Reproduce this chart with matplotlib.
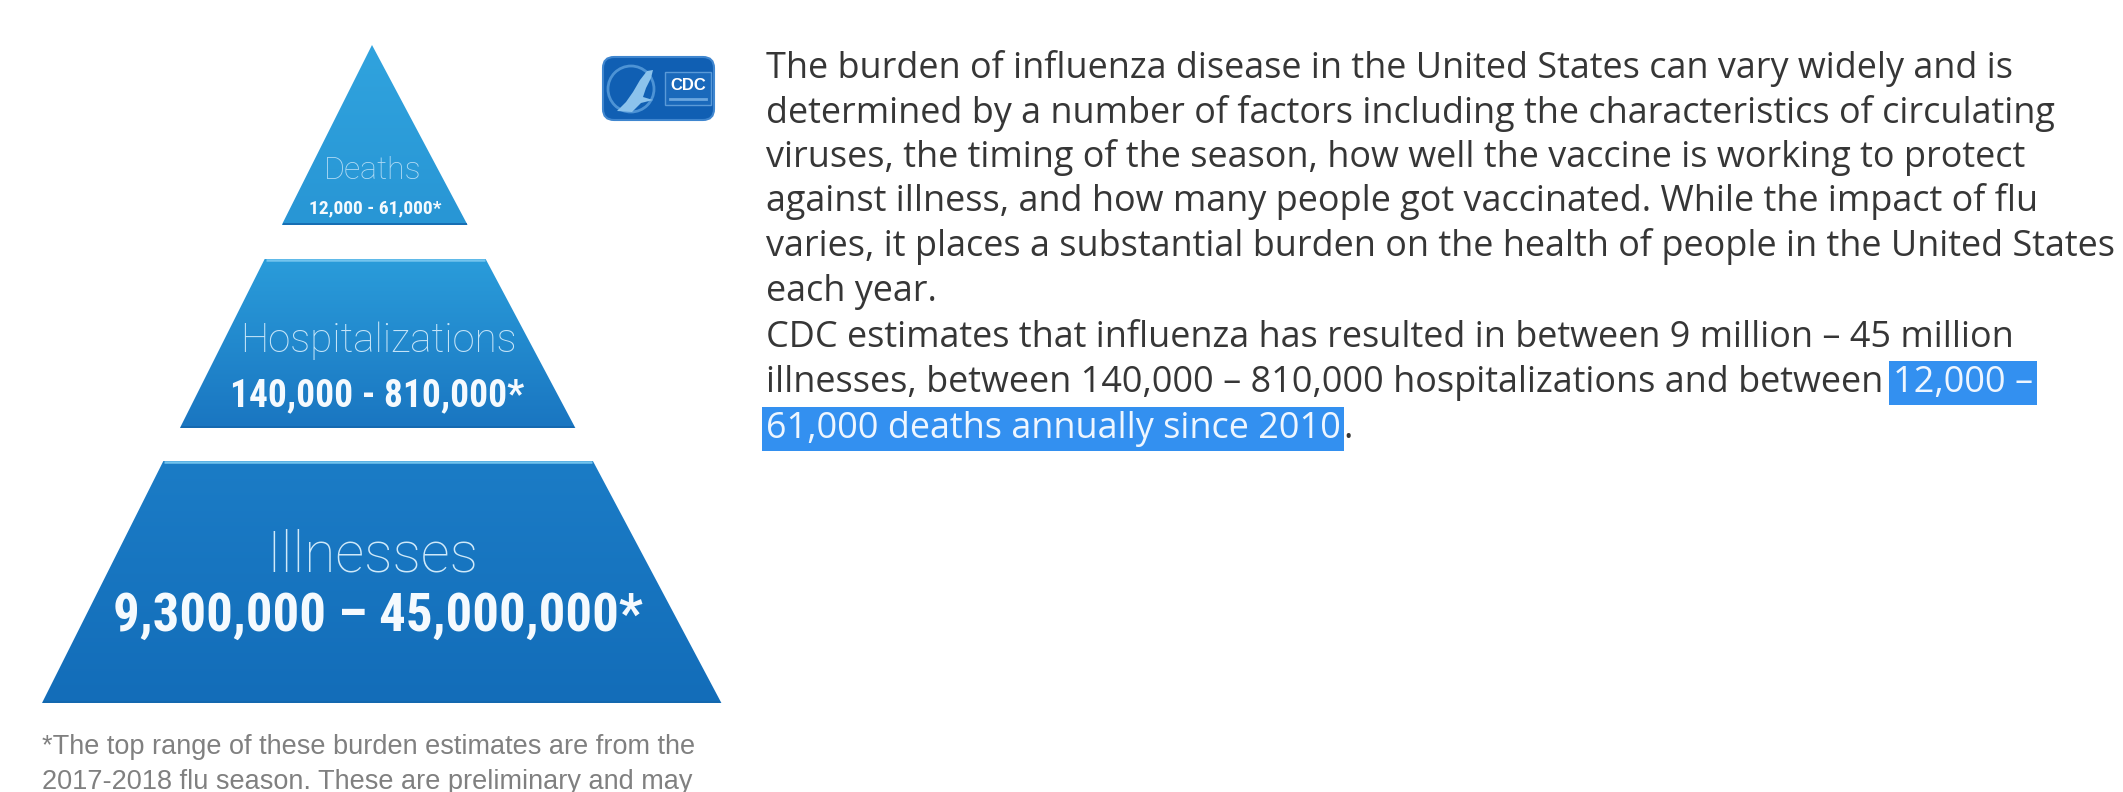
import matplotlib
matplotlib.use("Agg")
import numpy as np
import matplotlib.pyplot as plt
from matplotlib import font_manager
from matplotlib.colors import to_rgb
from matplotlib.patches import Polygon, FancyBboxPatch, Circle, Rectangle

# canvas in pixels
W, H = 2123, 792

# pyramid tiers, top to bottom
tiers = ["Deaths", "Hospitalizations", "Illnesses"]
tier_ranges = ["12,000 - 61,000*", "140,000 - 810,000*", "9,300,000 \u2013 45,000,000*"]

footnote = [
    "*The top range of these burden estimates are from the",
    "2017-2018 flu season. These are preliminary and may",
]

para1 = [
    "The burden of influenza disease in the United States can vary widely and is",
    "determined by a number of factors including the characteristics of circulating",
    "viruses, the timing of the season, how well the vaccine is working to protect",
    "against illness, and how many people got vaccinated. While the impact of flu",
    "varies, it places a substantial burden on the health of people in the United States",
    "each year.",
]
para2_line1 = "CDC estimates that influenza has resulted in between 9 million \u2013 45 million"
para2_line2 = "illnesses, between 140,000 \u2013 810,000 hospitalizations and between"
highlight_a = "12,000 \u2013"
highlight_b = "61,000 deaths annually since 2010"
tail = "."

# fonts
installed = {f.name for f in font_manager.fontManager.ttflist}


def pick(*names):
    for n in names:
        if n in installed:
            return n
    return "DejaVu Sans"


BODY_FONT = pick("Open Sans", "Noto Sans")
THIN_FONT = pick("Roboto", "Liberation Sans")
NUM_FONT = pick("Roboto Condensed", "Liberation Sans Narrow", "Liberation Sans")
num_scale = 1.0 if NUM_FONT != "Liberation Sans" else 0.84
FOOT_FONT = pick("Liberation Sans", "Roboto")

# pyramid layout (pixels); the source image is slightly skewed, so two slopes
apex_x, apex_y = 372, 45
slope_l, slope_r = 0.5015, 0.531
bands = [(45, 225), (259, 428), (461, 703)]
top_colors = ["#30a3de", "#2a9cda", "#1b7cc6"]
bot_colors = ["#2896d5", "#1a76c1", "#136db9"]
label_x = [373, 378, 372]
range_x = [375, 377, 378]
label_y = [179, 352, 571]
label_size = [23, 29, 41]
label_color = ["#b3dcf5", "#c4e4f8", "#cfe9f9"]
range_y = [213, 406, 631]
range_size = [14, 27, 38]

fig = plt.figure(figsize=(W / 100, H / 100), dpi=100)
ax = fig.add_axes([0, 0, 1, 1])
fig.patch.set_facecolor("white")


def edges(y):
    d = y - apex_y
    return apex_x - d * slope_l, apex_x + d * slope_r


for i, (y0, y1) in enumerate(bands):
    l0, r0 = edges(y0)
    l1, r1 = edges(y1)
    if r0 - l0 < 1:
        pts = [(apex_x, y0), (r1, y1), (l1, y1)]
    else:
        pts = [(l0, y0), (r0, y0), (r1, y1), (l1, y1)]
    poly = Polygon(pts, closed=True, facecolor="none", edgecolor="none")
    ax.add_patch(poly)
    c0, c1 = np.array(to_rgb(top_colors[i])), np.array(to_rgb(bot_colors[i]))
    t = np.linspace(0, 1, 64)[:, None, None]
    grad = c0 * (1 - t) + c1 * t
    im = ax.imshow(grad, extent=(l1, r1, y1, y0), origin="upper", aspect="auto",
                   interpolation="bilinear", zorder=1)
    im.set_clip_path(poly)
    if r0 - l0 >= 1:
        ax.plot([l0 + 1, r0 - 1], [y0 + 1, y0 + 1], color="#72c4ee", lw=1.8,
                zorder=2, solid_capstyle="butt")
    ax.plot([l1 + 1, r1 - 1], [y1 - 1, y1 - 1], color="#1467ad", lw=1.2,
            zorder=2, solid_capstyle="butt")

    ax.text(label_x[i], label_y[i], tiers[i], ha="center", va="baseline",
            fontsize=label_size[i], family=THIN_FONT, fontweight="light",
            color=label_color[i], zorder=3)
    ax.text(range_x[i], range_y[i], tier_ranges[i], ha="center", va="baseline",
            fontsize=range_size[i] * num_scale, family=NUM_FONT, fontweight="bold",
            color="#f5fafe", zorder=3)

# footnote
for k, line in enumerate(footnote):
    ax.text(42, 754 + 35 * k, line, ha="left", va="baseline", fontsize=19.5,
            family=FOOT_FONT, color="#808080")

# CDC badge
badge = FancyBboxPatch((603, 57), 111, 63, boxstyle="round,pad=0,rounding_size=11",
                       facecolor="#105fb3", edgecolor="#3f86cf", lw=1.5, zorder=2)
ax.add_patch(badge)
ax.add_patch(Circle((631, 89), 23, facecolor="none", edgecolor="#4d93d5", lw=2, zorder=3))
eagle = [(617, 111), (626, 102), (633, 92), (640, 80), (647, 71), (653, 70),
         (651, 78), (646, 88), (643, 97), (653, 100), (641, 103), (632, 112)]
ax.add_patch(Polygon(eagle, closed=True, facecolor="#8cc3ec", edgecolor="none", zorder=3))
ax.add_patch(Rectangle((665, 72), 46, 33, facecolor="#1a69bb", edgecolor="#5a9ad8",
                       lw=1, zorder=3))
ax.text(688, 86, "CDC", ha="center", va="center", fontsize=12, fontweight="bold",
        family=FOOT_FONT, color="white", zorder=4)
ax.plot([670, 706], [99, 99], color="#6aa6df", lw=2, zorder=4)

# paragraphs
TX = 766
FS = 25.9
BODY = dict(fontsize=FS, family=BODY_FONT, color="#363636", ha="left", va="baseline")
line_y = [78 + 44.5 * k for k in range(len(para1))]
for y, line in zip(line_y, para1):
    ax.text(TX, y, line, **BODY)

y2 = [347, 392, 438]
ax.text(TX, y2[0], para2_line1, **BODY)
t1 = ax.text(TX, y2[1], para2_line2, **BODY)
hl_box = dict(facecolor="#3390f0", edgecolor="none", pad=2.5)
ax.annotate(highlight_a, xy=(1, 0), xycoords=t1, xytext=(7, 0),
            textcoords="offset points", fontsize=FS, family=BODY_FONT,
            color="#eef6ff", ha="left", va="bottom", bbox=hl_box)
t3 = ax.text(TX, y2[2], highlight_b, fontsize=FS, family=BODY_FONT, color="#eef6ff",
             ha="left", va="baseline", bbox=hl_box)
ax.annotate(tail, xy=(1, 0), xycoords=t3, xytext=(2, 0), textcoords="offset points",
            fontsize=FS, family=BODY_FONT, color="#363636", ha="left", va="bottom")

ax.set_xlim(0, W)
ax.set_ylim(H, 0)
ax.axis("off")

fig.savefig("out.png", dpi=100)
